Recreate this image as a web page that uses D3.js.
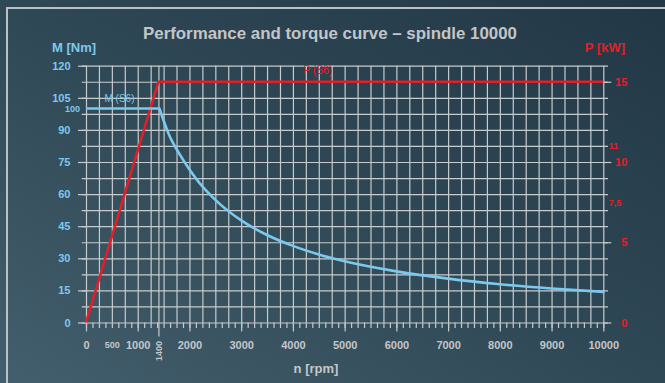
<!DOCTYPE html>
<html>
<head>
<meta charset="utf-8">
<script src="https://cdn.jsdelivr.net/npm/d3@7"></script>
<style>
  html, body { margin: 0; padding: 0; background: #2c4453; }
  svg { display: block; font-family: "Liberation Sans", Arial, sans-serif; }
</style>
</head>
<body>
<svg id="chart" width="665" height="383"></svg>
<script>
// torque curve M (S6)
const torqueRpm = [0, 1420, 1600, 1800, 2000, 2200, 2500, 3000, 3500, 4000, 4500, 5000, 6000, 7000, 8000, 9000, 10000];
const torqueNm = [100, 100, 88, 79, 71.5, 65, 57.3, 47.7, 40.9, 35.8, 31.8, 28.6, 23.9, 20.5, 17.9, 15.9, 14.3];

// power curve P (S6)
const powerRpm = [0, 1400, 10000];
const powerKw = [0, 15, 15];

// axis ticks
const rpmLabels = [0, 1000, 2000, 3000, 4000, 5000, 6000, 7000, 8000, 9000, 10000];
const rpmSmallLabels = [500];
const rpmRotatedLabels = [1400];
const torqueLabels = [0, 15, 30, 45, 60, 75, 90, 105, 120];
const torqueSmallLabels = [100];
const powerLabels = [0, 5, 10, 15];
const powerSmallLabels = [7.5, 11];

const title = 'Performance and torque curve \u2013 spindle 10000';

const blue = '#7cc9ee';
const red = '#e31e27';
const grid = '#c7cbcd';
const grey = '#c4c7c9';
const plain = d => String(d);

const svg = d3.select('#chart');

// background
const defs = svg.append('defs');
const grad = defs.append('linearGradient')
  .attr('id', 'bg')
  .attr('x1', '0').attr('y1', '1')
  .attr('x2', '1').attr('y2', '0');
grad.append('stop').attr('offset', '0').attr('stop-color', '#435e6c');
grad.append('stop').attr('offset', '0.5').attr('stop-color', '#2f4856');
grad.append('stop').attr('offset', '1').attr('stop-color', '#223746');

svg.append('rect')
  .attr('width', 665).attr('height', 383)
  .attr('fill', 'url(#bg)');

svg.append('path')
  .attr('d', 'M7,383 V8 H665')
  .attr('fill', 'none')
  .attr('stroke', '#b9c1c5')
  .attr('stroke-width', 2);

// scales
const x = d3.scaleLinear().domain([0, 10000]).range([86, 603.3]);
const yM = d3.scaleLinear().domain([0, 120]).range([322.5, 65.7]);
const yP = d3.scaleLinear().domain([0, 16]).range([322.5, 65.7]);

const styleLines = sel => sel.selectAll('line')
  .attr('stroke', grid).attr('stroke-width', 1.2);

// vertical grid lines every 250 rpm plus the 1400 mark
svg.append('g')
  .attr('transform', `translate(0,${yM(120)})`)
  .call(d3.axisBottom(x)
    .tickValues(d3.range(0, 10001, 250).concat(rpmRotatedLabels))
    .tickSize(yM(0) - yM(120))
    .tickFormat(''))
  .call(g => g.select('.domain').remove())
  .call(styleLines);

// horizontal grid lines every 7.5 Nm (= 1 kW)
svg.append('g')
  .attr('transform', 'translate(608,0)')
  .call(d3.axisLeft(yM)
    .tickValues(d3.range(0, 120.1, 7.5))
    .tickSize(608 - 81.7)
    .tickFormat(''))
  .call(g => g.select('.domain').remove())
  .call(styleLines);

// left axis (torque)
svg.append('g')
  .attr('transform', `translate(${x(0)},0)`)
  .call(d3.axisLeft(yM).tickValues(torqueLabels).tickSize(8).tickPadding(7.5).tickFormat(plain))
  .call(g => g.select('.domain').remove())
  .call(styleLines)
  .selectAll('text')
  .attr('fill', blue)
  .attr('font-size', '11px')
  .attr('font-weight', 'bold');

svg.append('g')
  .attr('transform', `translate(${x(0)},0)`)
  .call(d3.axisLeft(yM).tickValues(torqueSmallLabels).tickSize(0).tickPadding(6).tickFormat(plain))
  .call(g => g.select('.domain').remove())
  .selectAll('text')
  .attr('fill', blue)
  .attr('font-size', '9px')
  .attr('font-weight', 'bold');

// right axis (power)
svg.append('g')
  .attr('transform', `translate(${x(10000)},0)`)
  .call(d3.axisRight(yP).tickValues(powerLabels).tickSize(8).tickFormat(plain))
  .call(g => g.select('.domain').remove())
  .call(styleLines)
  .selectAll('text')
  .attr('x', 24)
  .attr('text-anchor', 'end')
  .attr('fill', red)
  .attr('font-size', '11px')
  .attr('font-weight', 'bold');

svg.append('g')
  .attr('transform', `translate(${x(10000)},0)`)
  .call(d3.axisRight(yP).tickValues(powerSmallLabels).tickSize(0).tickPadding(5.5)
    .tickFormat(d => String(d).replace('.', ',')))
  .call(g => g.select('.domain').remove())
  .selectAll('text')
  .attr('fill', red)
  .attr('font-size', '9px')
  .attr('font-weight', 'bold');

// bottom ticks
svg.append('g')
  .attr('transform', `translate(0,${yM(0)})`)
  .call(d3.axisBottom(x).tickValues(d3.range(0, 10001, 125)).tickSize(5.5).tickFormat(''))
  .call(g => g.select('.domain').remove())
  .call(styleLines);

svg.append('g')
  .attr('transform', `translate(0,${yM(0)})`)
  .call(d3.axisBottom(x).tickValues(rpmLabels).tickSize(9).tickPadding(9.5).tickFormat(plain))
  .call(g => g.select('.domain').remove())
  .call(styleLines)
  .selectAll('text')
  .attr('fill', grey)
  .attr('font-size', '11px')
  .attr('font-weight', 'bold');

svg.append('g')
  .attr('transform', `translate(0,${yM(0)})`)
  .call(d3.axisBottom(x).tickValues(rpmSmallLabels).tickSize(0).tickPadding(19.5).tickFormat(plain))
  .call(g => g.select('.domain').remove())
  .selectAll('text')
  .attr('fill', grey)
  .attr('font-size', '9px')
  .attr('font-weight', 'bold');

svg.append('g')
  .attr('transform', `translate(0,${yM(0)})`)
  .call(d3.axisBottom(x).tickValues(rpmRotatedLabels).tickSize(14).tickFormat(''))
  .call(g => g.select('.domain').remove())
  .call(styleLines);

// rotated 1400 label
svg.selectAll('.rot-label')
  .data(rpmRotatedLabels)
  .join('text')
  .attr('class', 'rot-label')
  .attr('transform', d => `translate(${x(d) + 3.3},${yM(0) + 28.5}) rotate(-90)`)
  .attr('text-anchor', 'middle')
  .attr('fill', grey)
  .attr('font-size', '9px')
  .attr('font-weight', 'bold')
  .text(plain);

// power line
const powerPts = powerRpm.map((r, i) => [r, powerKw[i]]);
svg.append('path')
  .datum(powerPts)
  .attr('fill', 'none')
  .attr('stroke', red)
  .attr('stroke-width', 2.6)
  .attr('stroke-linejoin', 'miter')
  .attr('d', d3.line().x(d => x(d[0])).y(d => yP(d[1])));

// torque line: flat part then the falling curve
const torquePts = torqueRpm.map((r, i) => [r, torqueNm[i]]);
const torqueLine = d3.line().x(d => x(d[0])).y(d => yM(d[1]));
svg.append('path')
  .datum(torquePts.slice(0, 2))
  .attr('fill', 'none')
  .attr('stroke', blue)
  .attr('stroke-width', 2.6)
  .attr('d', torqueLine);
svg.append('path')
  .datum(torquePts.slice(1))
  .attr('fill', 'none')
  .attr('stroke', blue)
  .attr('stroke-width', 2.6)
  .attr('stroke-linecap', 'round')
  .attr('d', torqueLine.curve(d3.curveMonotoneX));

// series labels
svg.append('text')
  .attr('x', 119.5).attr('y', 101.5)
  .attr('text-anchor', 'middle')
  .attr('fill', blue)
  .attr('font-size', '11px')
  .attr('textLength', 30).attr('lengthAdjust', 'spacingAndGlyphs')
  .text('M (S6)');

svg.append('text')
  .attr('x', 318).attr('y', 74)
  .attr('text-anchor', 'middle')
  .attr('fill', red)
  .attr('font-size', '12px')
  .attr('textLength', 29).attr('lengthAdjust', 'spacingAndGlyphs')
  .text('P (S6)');

// titles
svg.append('text')
  .attr('x', 330).attr('y', 38.5)
  .attr('text-anchor', 'middle')
  .attr('fill', '#c3c5c7')
  .attr('font-size', '17px')
  .attr('font-weight', 'bold')
  .attr('textLength', 374).attr('lengthAdjust', 'spacingAndGlyphs')
  .text(title);

svg.append('text')
  .attr('x', 52).attr('y', 51.5)
  .attr('fill', blue)
  .attr('font-size', '13px')
  .attr('font-weight', 'bold')
  .text('M [Nm]');

svg.append('text')
  .attr('x', 625).attr('y', 51.5)
  .attr('text-anchor', 'end')
  .attr('fill', red)
  .attr('font-size', '13px')
  .attr('font-weight', 'bold')
  .text('P [kW]');

svg.append('text')
  .attr('x', 316).attr('y', 373)
  .attr('text-anchor', 'middle')
  .attr('fill', grey)
  .attr('font-size', '13px')
  .attr('font-weight', 'bold')
  .text('n [rpm]');
</script>
</body>
</html>
